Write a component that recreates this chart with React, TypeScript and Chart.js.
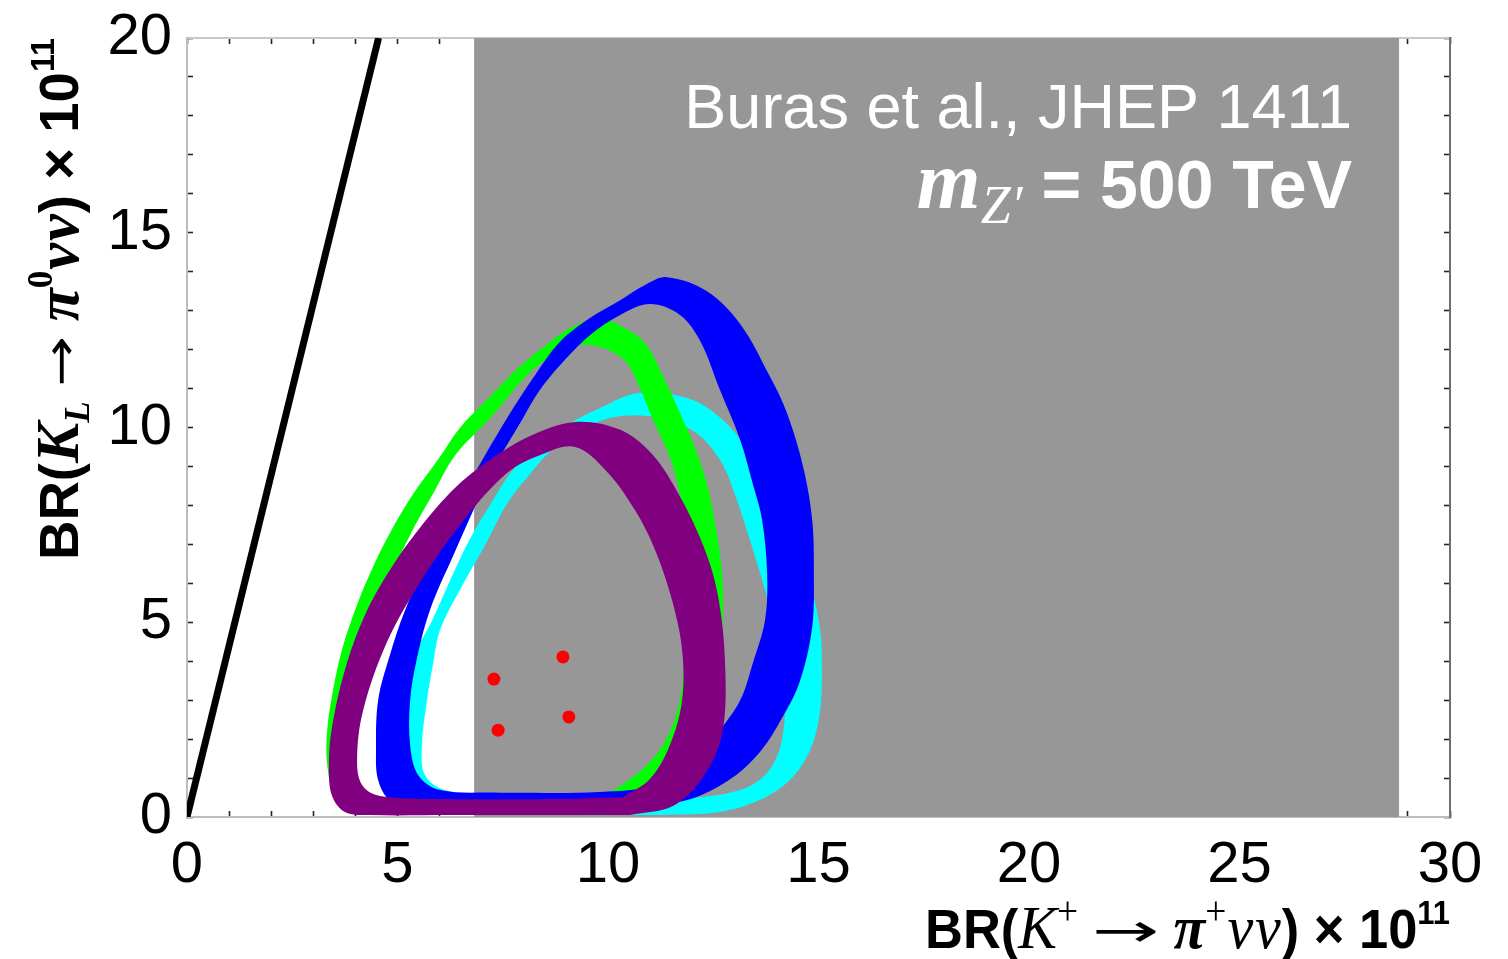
import React, { useEffect, useRef } from "react";
import { Chart, registerables } from "chart.js";

Chart.register(...registerables);

// ---------------- data ----------------
const X_RANGE = [0, 30];
const Y_RANGE = [0, 20];
const xTickLabels = [0, 5, 10, 15, 20, 25, 30];
const yTickLabels = [0, 5, 10, 15, 20];

// gray band in BR(K+)
const grayBandX = [6.82, 28.79];
const grayBandY = [0, 20];

// Grossman-Nir bound line
const gnLineX = [0, 4.55];
const gnLineY = [0, 20];

// red points
const redDotsX = [7.29, 8.93, 7.39, 9.07];
const redDotsY = [3.54, 4.11, 2.23, 2.57];

// bands: outer boundary then inner boundary (opposite direction)
const cyanOuter = [[10.76,10.89],[11.95,10.73],[12.73,10.19],[13.30,9.45],[13.78,8.55],[14.20,7.63],[14.56,6.73],[14.85,5.80],[15.04,4.80],[15.08,3.95],[15.04,2.75],[14.80,1.72],[14.32,0.95],[13.61,0.44],[12.66,0.13],[11.24,0.05],[8.86,0.05],[6.25,0.10],[5.06,0.23],[4.70,0.56],[4.63,1.21],[4.70,1.98],[4.94,3.00],[5.30,4.03],[5.77,4.93],[6.25,6.08],[6.72,7.14],[7.20,8.01],[7.74,8.91],[8.38,9.55],[9.03,10.06],[9.81,10.50],[10.76,10.89]];
const cyanInner = [[10.36,10.30],[9.57,10.06],[8.69,9.45],[8.03,8.65],[7.60,8.04],[7.08,6.98],[6.48,5.83],[6.01,4.80],[5.84,3.90],[5.70,3.00],[5.58,1.85],[5.65,1.08],[6.13,0.69],[7.43,0.51],[9.81,0.44],[11.71,0.44],[13.14,0.69],[13.80,1.16],[14.13,1.98],[14.20,3.26],[14.04,4.54],[13.73,5.83],[13.37,7.11],[13.02,8.27],[12.66,9.17],[12.07,9.88],[11.24,10.24],[10.36,10.30]];

const greenOuter = [[9.81,12.81],[10.40,12.55],[10.88,12.17],[11.35,11.22],[11.71,10.37],[12.07,9.47],[12.35,8.55],[12.57,7.37],[12.71,6.24],[12.73,5.06],[12.66,3.52],[12.42,2.23],[11.95,1.21],[11.24,0.56],[10.05,0.26],[7.43,0.15],[5.06,0.15],[3.99,0.26],[3.52,0.56],[3.33,1.34],[3.33,2.23],[3.47,3.26],[3.68,4.29],[3.99,5.31],[4.35,6.26],[4.82,7.29],[5.37,8.29],[5.96,9.17],[6.48,9.99],[7.13,10.71],[7.74,11.40],[8.38,11.99],[9.10,12.55],[9.81,12.81]];
const greenInner = [[9.57,12.12],[8.86,11.94],[8.15,11.42],[7.20,10.24],[6.37,9.29],[5.84,8.29],[5.30,7.24],[4.89,6.26],[4.54,5.06],[4.23,3.77],[3.99,2.49],[3.92,1.46],[4.06,0.69],[4.58,0.41],[5.77,0.36],[7.91,0.36],[9.57,0.44],[10.59,1.03],[11.31,1.85],[11.71,3.03],[11.83,4.88],[11.78,7.63],[11.54,9.01],[11.00,10.37],[10.76,11.01],[10.36,11.76],[9.57,12.12]];

const blueOuter = [[11.40,13.86],[12.35,13.50],[13.14,12.66],[13.85,11.30],[14.25,10.37],[14.63,9.01],[14.85,7.63],[14.89,6.24],[14.85,4.88],[14.56,3.49],[14.16,2.59],[13.61,1.67],[12.83,0.92],[11.71,0.39],[9.81,0.23],[7.43,0.21],[5.53,0.23],[4.82,0.44],[4.54,0.95],[4.49,1.72],[4.54,3.00],[4.82,4.16],[5.18,5.31],[5.77,6.70],[6.65,8.47],[7.60,10.24],[8.27,11.35],[8.86,12.20],[9.57,12.81],[10.29,13.27],[10.88,13.66],[11.40,13.86]];
const blueInner = [[11.00,13.17],[10.29,12.89],[9.57,12.37],[8.86,11.60],[8.38,10.96],[7.98,10.24],[7.20,8.78],[6.32,6.70],[5.77,5.31],[5.46,4.06],[5.30,3.00],[5.30,1.85],[5.49,1.08],[6.01,0.69],[7.43,0.62],[9.81,0.64],[11.24,0.82],[11.95,1.21],[12.59,2.13],[13.14,3.00],[13.44,3.95],[13.73,5.06],[13.78,6.24],[13.66,7.63],[13.44,8.55],[13.14,9.68],[12.66,10.96],[12.19,12.22],[11.71,12.89],[11.00,13.17]];

const purpleOuter = [[9.22,10.14],[10.29,9.94],[11.00,9.37],[11.54,8.55],[12.19,7.16],[12.59,5.80],[12.78,3.95],[12.71,2.13],[12.26,1.03],[11.54,0.28],[10.52,0.05],[8.62,0.05],[6.25,0.05],[4.35,0.05],[3.75,0.13],[3.44,0.56],[3.37,1.34],[3.44,2.28],[3.75,3.77],[4.23,5.19],[4.82,6.34],[5.53,7.42],[6.37,8.45],[7.20,9.17],[8.15,9.78],[9.22,10.14]];
const purpleInner = [[9.22,9.50],[8.38,9.29],[7.60,8.83],[6.56,7.60],[5.53,6.01],[4.75,4.49],[4.18,2.72],[4.04,1.46],[4.16,0.82],[4.58,0.54],[6.25,0.46],[8.62,0.46],[10.36,0.51],[11.00,0.98],[11.47,1.85],[11.76,3.00],[11.76,4.29],[11.52,5.57],[11.12,6.85],[10.64,7.88],[9.98,8.86],[9.22,9.50]];

// ---------------- styling ----------------
const SANS = '"Liberation Sans", Arial, Helvetica, sans-serif';
const SERIF = '"Liberation Serif", "Times New Roman", serif';
const ARROW = '"DejaVu Sans", sans-serif';

type P = number[];
const dist = (a: P, b: P) => Math.hypot(a[0] - b[0], a[1] - b[1]);
// re-start a closed loop (last point == first) at index idx
const rotateLoop = (loop: P[], idx: number) => {
  const open = loop.slice(0, -1);
  const r = [...open.slice(idx), ...open.slice(0, idx)];
  r.push(r[0]);
  return r;
};
// outer loop then inner loop (opposite winding -> hole); seam placed at the band bottom
const ring = (outer: P[], inner: P[]) => {
  let oi = 0;
  outer.forEach((p, i) => {
    if (p[1] < outer[oi][1]) oi = i;
  });
  const o = rotateLoop(outer, oi);
  let ii = 0;
  inner.forEach((p, i) => {
    if (dist(p, o[0]) < dist(inner[ii], o[0])) ii = i;
  });
  const n = rotateLoop(inner, ii);
  return [...o, o[o.length - 1], n[0], ...n].map(([x, y]) => ({ x, y }));
};

type Run = { text: string; font: string; dy?: number; gap?: number; width?: number };

function drawRuns(
  ctx: CanvasRenderingContext2D,
  runs: Run[],
  x: number,
  y: number,
  align: "left" | "right",
  fitWidth?: number
) {
  let total = 0;
  const widths: number[] = [];
  const scales: number[] = [];
  for (const r of runs) {
    ctx.font = r.font;
    const m = ctx.measureText(r.text).width;
    const sx = r.width ? r.width / m : 1;
    const w = m * sx + (r.gap || 0);
    widths.push(w);
    scales.push(sx);
    total += w;
  }
  const k = fitWidth ? fitWidth / total : 1;
  ctx.save();
  ctx.translate(align === "right" ? x - total * k : x, y);
  ctx.scale(k, 1);
  let cx = 0;
  runs.forEach((r, i) => {
    ctx.font = r.font;
    ctx.save();
    ctx.translate(cx + (r.gap || 0) / 2, r.dy || 0);
    ctx.scale(scales[i], 1);
    ctx.fillText(r.text, 0, 0);
    ctx.restore();
    cx += widths[i];
  });
  ctx.restore();
}

const textPlugin = {
  id: "textPlugin",
  afterDraw(chart: any) {
    const ctx: CanvasRenderingContext2D = chart.ctx;
    ctx.save();
    ctx.textBaseline = "alphabetic";
    ctx.textAlign = "left";
    // annotation
    ctx.fillStyle = "#ffffff";
    drawRuns(ctx, [{ text: "Buras et al., JHEP 1411", font: `63px ${SANS}` }], 1352, 128, "right");
    drawRuns(
      ctx,
      [
        { text: "m", font: `bold italic 82px ${SERIF}` },
        { text: "Z\u2032", font: `italic 54px ${SERIF}`, dy: 15 },
        { text: " = 500 TeV", font: `bold 68px ${SANS}` },
      ],
      1352,
      208,
      "right"
    );
    // x axis title
    ctx.fillStyle = "#000000";
    drawRuns(
      ctx,
      [
        { text: "BR(", font: `bold 56px ${SANS}` },
        { text: "K", font: `italic 62px ${SERIF}` },
        { text: "+", font: `40px ${SERIF}`, dy: -24 },
        { text: "\u2192", font: `46px ${ARROW}`, width: 72, gap: 30, dy: -2 },
        { text: "\u03C0", font: `bold italic 62px ${SERIF}` },
        { text: "+", font: `40px ${SERIF}`, dy: -24 },
        { text: "\u03BD", font: `italic 62px ${SERIF}`, gap: 2 },
        { text: "\u03BD", font: `italic 62px ${SERIF}`, gap: 2 },
        { text: ")", font: `bold 56px ${SANS}` },
        { text: " \u00D7 ", font: `bold 56px ${SANS}` },
        { text: "10", font: `bold 56px ${SANS}` },
        { text: "11", font: `bold 33px ${SANS}`, dy: -24 },
      ],
      1450,
      948,
      "right",
      525
    );
    // y axis title (rotated)
    ctx.save();
    ctx.translate(78, 560);
    ctx.rotate(-Math.PI / 2);
    drawRuns(
      ctx,
      [
        { text: "BR(", font: `bold 56px ${SANS}` },
        { text: "K", font: `bold italic 62px ${SERIF}` },
        { text: "L", font: `bold italic 36px ${SERIF}`, dy: 11 },
        { text: "\u2192", font: `46px ${ARROW}`, width: 52, gap: 30, dy: -2 },
        { text: "\u03C0", font: `bold italic 62px ${SERIF}` },
        { text: "0", font: `bold 36px ${SERIF}`, dy: -26 },
        { text: "\u03BD", font: `bold italic 62px ${SERIF}`, gap: 2 },
        { text: "\u03BD", font: `bold italic 62px ${SERIF}`, gap: 2 },
        { text: ")", font: `bold 56px ${SANS}` },
        { text: " \u00D7 ", font: `bold 56px ${SANS}` },
        { text: "10", font: `bold 56px ${SANS}` },
        { text: "11", font: `bold 33px ${SANS}`, dy: -24 },
      ],
      0,
      0,
      "left",
      522
    );
    ctx.restore();
    ctx.restore();
  },
};

function makeCallback(labels: number[]) {
  return (v: any) => {
    const n = Number(v);
    return labels.some((t) => Math.abs(t - n) < 1e-6) ? String(Math.round(n)) : "";
  };
}

const gridOpts = {
  drawOnChartArea: false,
  drawTicks: true,
  tickLength: -6,
  tickWidth: 1.6,
  tickColor: "#222222",
};

const clearPadding = (s: any) => {
  s.paddingTop = 0;
  s.paddingBottom = 0;
  s.paddingLeft = 0;
  s.paddingRight = 0;
};

export default function App() {
  const canvasRef = useRef<HTMLCanvasElement | null>(null);

  useEffect(() => {
    document.body.style.margin = "0";
    const canvas = canvasRef.current;
    if (!canvas) return;

    const bandDataset = (data: any[], color: string, order: number, tension: number) => ({
      data,
      xAxisID: "x",
      yAxisID: "y",
      borderWidth: 0,
      borderColor: color,
      backgroundColor: color,
      pointRadius: 0,
      pointHoverRadius: 0,
      fill: "shape",
      tension,
      order,
      clip: 0,
    });

    const grayData = [
      { x: grayBandX[0], y: grayBandY[0] },
      { x: grayBandX[0], y: grayBandY[1] },
      { x: grayBandX[1], y: grayBandY[1] },
      { x: grayBandX[1], y: grayBandY[0] },
    ];

    const chart = new Chart(canvas, {
      type: "line",
      data: {
        datasets: [
          {
            data: redDotsX.map((x, i) => ({ x, y: redDotsY[i] })),
            xAxisID: "x",
            yAxisID: "y",
            showLine: false,
            pointRadius: 6.5,
            pointHoverRadius: 6.5,
            pointBackgroundColor: "#ff0000",
            pointBorderWidth: 0,
            borderColor: "#ff0000",
            order: 0,
            clip: 0,
          } as any,
          {
            data: gnLineX.map((x, i) => ({ x, y: gnLineY[i] })),
            xAxisID: "x",
            yAxisID: "y",
            borderColor: "#000000",
            borderWidth: 7,
            pointRadius: 0,
            fill: false,
            order: 1,
            clip: 0,
          } as any,
          bandDataset(ring(purpleOuter, purpleInner), "#800080", 2, 0.35) as any,
          bandDataset(ring(blueOuter, blueInner), "#0000ff", 3, 0.35) as any,
          bandDataset(ring(greenOuter, greenInner), "#00ff00", 4, 0.35) as any,
          bandDataset(ring(cyanOuter, cyanInner), "#00ffff", 5, 0.35) as any,
          bandDataset(grayData, "#979797", 6, 0) as any,
        ],
      },
      options: {
        animation: false,
        responsive: true,
        maintainAspectRatio: false,
        layout: { autoPadding: false, padding: { left: 0, right: 58, top: 38, bottom: 0 } },
        plugins: { legend: { display: false }, tooltip: { enabled: false } },
        events: [],
        elements: { line: { capBezierPoints: true } },
        scales: {
          x: {
            type: "linear",
            position: "bottom",
            min: X_RANGE[0],
            max: X_RANGE[1],
            z: 1,
            ticks: {
              stepSize: 1,
              autoSkip: false,
              maxRotation: 0,
              minRotation: 0,
              padding: 20,
              color: "#000000",
              font: { family: SANS, size: 58 },
              callback: makeCallback(xTickLabels),
            },
            grid: gridOpts,
            border: { display: true, color: "#bdbdbd", width: 2 },
            afterFit: (s: any) => {
              s.height = 142;
              clearPadding(s);
            },
          },
          x2: {
            type: "linear",
            position: "top",
            min: X_RANGE[0],
            max: X_RANGE[1],
            z: 1,
            ticks: { stepSize: 1, autoSkip: false, display: false, maxRotation: 0 },
            grid: gridOpts,
            border: { display: true, color: "#c8c8c8", width: 2 },
            afterFit: (s: any) => {
              s.height = 0;
              clearPadding(s);
            },
          },
          y: {
            type: "linear",
            position: "left",
            min: Y_RANGE[0],
            max: Y_RANGE[1],
            z: 1,
            ticks: {
              stepSize: 1,
              autoSkip: false,
              padding: 21,
              color: "#000000",
              font: { family: SANS, size: 58 },
              callback: makeCallback(yTickLabels),
            },
            grid: gridOpts,
            border: { display: true, color: "#bdbdbd", width: 2 },
            afterFit: (s: any) => {
              s.width = 187;
              clearPadding(s);
            },
          },
          y2: {
            type: "linear",
            position: "right",
            min: Y_RANGE[0],
            max: Y_RANGE[1],
            z: 1,
            ticks: { stepSize: 1, autoSkip: false, display: false },
            grid: gridOpts,
            border: { display: true, color: "#6e6e6e", width: 2 },
            afterFit: (s: any) => {
              s.width = 0;
              clearPadding(s);
            },
          },
        },
      } as any,
      plugins: [textPlugin],
    });

    return () => chart.destroy();
  }, []);

  return (
    <div style={{ position: "relative", width: "1508px", height: "959px", background: "#ffffff" }}>
      <canvas ref={canvasRef} />
    </div>
  );
}
